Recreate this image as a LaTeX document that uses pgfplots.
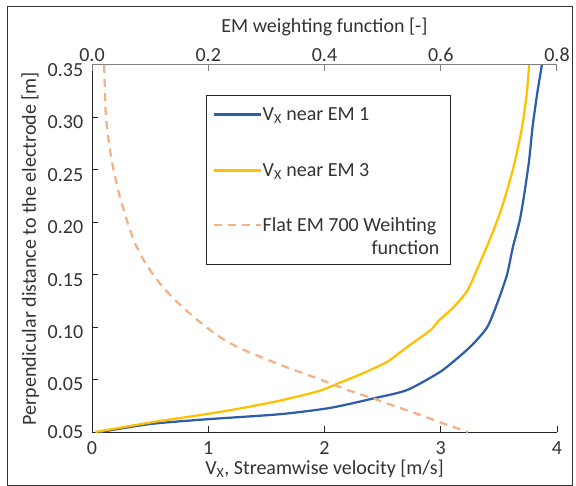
\documentclass[border=0pt]{standalone}
\usepackage{pgfplots}
\pgfplotsset{compat=1.18}
\usepackage{fontspec}
\setmainfont{Carlito}
\definecolor{cblue}{HTML}{2E5EAA}
\definecolor{cyellow}{HTML}{FFC000}
\definecolor{csalmon}{HTML}{F4B183}
\definecolor{ctext}{HTML}{333333}
\definecolor{caxis}{HTML}{262626}
\newlength\flatw
\begin{document}
\settowidth{\flatw}{\fontsize{20}{24}\selectfont Flat EM 700 Weihting}%
\begin{tikzpicture}[x=1pt,y=1pt]
\useasboundingbox (0,0) rectangle (576,-486);
\draw[black!80, line width=1pt] (7,-7) rectangle (572,-485);
\begin{axis}[
  at={(92pt,-432pt)}, anchor=south west,
  scale only axis, width=465pt, height=367pt,
  xmin=0, xmax=4, ymin=0, ymax=0.35,
  axis x line*=bottom, axis y line*=left,
  axis line style={caxis, line width=1pt},
  tick align=inside, major tick length=6pt,
  tick style={caxis, line width=1pt},
  xtick={0,1,2,3,4},
  ytick={0.05,0.10,0.15,0.20,0.25,0.30,0.35},
  yticklabels={0.05,0.10,0.15,0.20,0.25,0.30,0.35},
  extra y ticks={0}, extra y tick labels={0.05},
  extra y tick style={yticklabel style={yshift=5pt}},
  font=\fontsize{20}{24}\selectfont,
  every tick label/.append style={text=ctext},
  /pgf/number format/assume math mode=true,
  xticklabel style={yshift=-6.3pt},
  yticklabel style={xshift=-5.3pt, yshift=-5pt},
  xlabel={V\textsubscript{X}, Streamwise velocity [m/s]},
  ylabel={Perpendicular distance to the electrode [m]},
  xlabel style={at={(axis description cs:0.5,-0.1)}, anchor=center, text=ctext},
  ylabel style={at={(axis description cs:-0.133,0.5)}, anchor=center, rotate=0, text=ctext},
]
\addplot[cblue, line width=2.25pt, smooth, tension=0.4] coordinates {
(0.07,0) (0.5,0.0076) (0.97,0.012) (1.62,0.017) (2.05,0.023) (2.42,0.032) (2.71,0.040) (2.99,0.057) (3.15,0.071) (3.27,0.083) (3.40,0.100) (3.49,0.124) (3.57,0.150) (3.62,0.176) (3.68,0.202) (3.72,0.228) (3.76,0.259) (3.79,0.291) (3.83,0.323) (3.87,0.35)};
\addplot[cyellow, line width=2.25pt, smooth, tension=0.4] coordinates {
(0.03,0) (0.5,0.009) (0.98,0.017) (1.25,0.022) (1.62,0.030) (1.95,0.039) (2.11,0.046) (2.33,0.056) (2.54,0.067) (2.71,0.081) (2.91,0.097) (2.99,0.107) (3.11,0.119) (3.23,0.135) (3.32,0.157) (3.42,0.183) (3.51,0.209) (3.58,0.234) (3.64,0.259) (3.70,0.291) (3.74,0.323) (3.76,0.35)};
\end{axis}
\begin{axis}[
  at={(92pt,-432pt)}, anchor=south west,
  scale only axis, width=465pt, height=367pt,
  xmin=0, xmax=0.8, ymin=0, ymax=0.35,
  axis x line*=top, axis y line=none,
  axis line style={gray, line width=1pt},
  tick align=inside, major tick length=6pt,
  tick style={gray, line width=1pt},
  xtick={0,0.2,0.4,0.6,0.8},
  font=\fontsize{20}{24}\selectfont,
  every tick label/.append style={text=ctext},
  /pgf/number format/assume math mode=true,
  xticklabel style={yshift=0.3pt, /pgf/number format/fixed, /pgf/number format/fixed zerofill, /pgf/number format/precision=1},
  xlabel={EM weighting function [-]},
  xlabel style={at={(axis description cs:0.5,1.1035)}, anchor=center, text=ctext},
  legend image code/.code={\draw[#1] (0pt,0pt) -- (47pt,0pt);},
  legend cell align=left,
  legend style={at={(0.245,0.918)}, anchor=north west, draw=caxis, line width=1pt,
    inner xsep=6pt, inner ysep=10pt, row sep=0pt, text=ctext,
    font=\fontsize{20}{24}\selectfont,
    nodes={inner xsep=1pt, inner ysep=0pt}},
]
\addlegendimage{cblue, line width=2.25pt, yshift=20pt}
\addlegendentry[text height=15pt, text depth=43pt]{V\textsubscript{X} near EM 1}
\addlegendimage{cyellow, line width=2.25pt, yshift=20.5pt}
\addlegendentry[text height=13pt, text depth=42pt]{V\textsubscript{X} near EM 3}
\addplot[csalmon, line width=2.25pt, dash pattern=on 8pt off 6pt, smooth, tension=0.4,
  forget plot] coordinates {
(0.021,0.35) (0.024,0.300) (0.033,0.262) (0.040,0.243) (0.048,0.224) (0.060,0.202) (0.074,0.180) (0.091,0.162) (0.112,0.145) (0.129,0.134) (0.152,0.121) (0.181,0.107) (0.216,0.092) (0.250,0.081) (0.284,0.073) (0.329,0.063) (0.393,0.050) (0.440,0.040) (0.484,0.032) (0.519,0.025) (0.566,0.016) (0.600,0.009) (0.647,0)};
\addlegendimage{csalmon, line width=2.25pt, dash pattern=on 8pt off 6pt, yshift=4.8pt}
\addlegendentry[text height=13pt, text depth=10pt]{Flat EM 700 Weihting\hspace*{7pt}}
\addlegendimage{empty legend}
\addlegendentry[text height=13pt, text depth=0pt]{\makebox[\dimexpr\flatw+3pt\relax][r]{function}}
\end{axis}
\end{tikzpicture}
\end{document}
